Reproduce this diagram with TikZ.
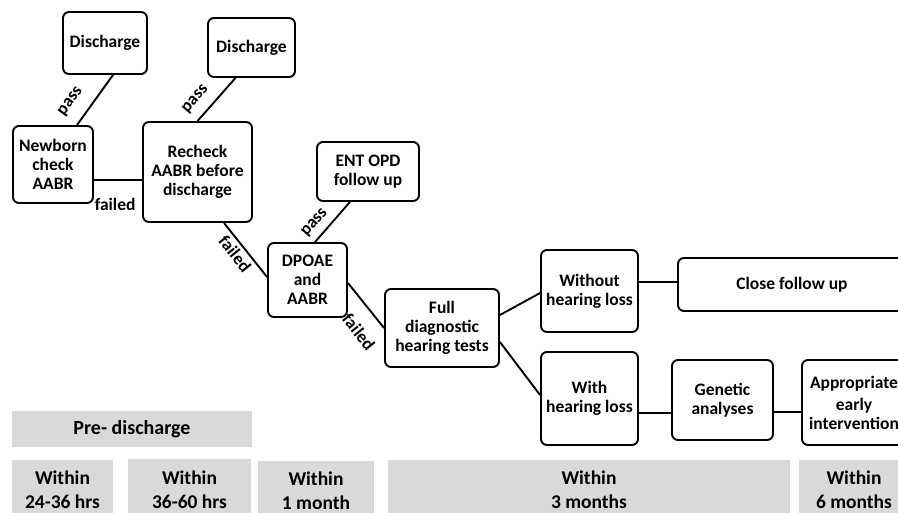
\documentclass[tikz,border=0pt]{standalone}
\usepackage{fontspec}
\setmainfont{Carlito}
\usepackage{tikz}
\usetikzlibrary{positioning}
\definecolor{bargray}{RGB}{217,217,217}

\begin{document}
\begin{tikzpicture}[x=1pt, y=-1pt, auto, line width=1.9pt]
            \tikzstyle{box}=[draw, rounded corners=6pt, align=center, inner sep=0pt, font=\fontsize{17.5}{19}\selectfont\bfseries]
            \tikzstyle{bar}=[fill=bargray, align=center, inner sep=0pt, font=\fontsize{19.5}{24}\selectfont\bfseries]
            \tikzstyle{lbl}=[sloped, font=\fontsize{17.5}{19}\selectfont\bfseries]

            \clip (0,0) rectangle (898,512);

            % screening steps
            \node[box, minimum width=80pt, minimum height=77pt]  (nb)   at (53,164.5)  {Newborn\\check\\AABR};
            \node[box, minimum width=84pt, minimum height=62pt]  (dis1) at (105,43)    {Discharge};
            \node[box, minimum width=109pt, minimum height=100pt] (rc)  at (197.5,172) {Recheck\\AABR before\\discharge};
            \node[box, minimum width=87pt, minimum height=59pt]  (dis2) at (251.5,47.5) {Discharge};
            \node[box, minimum width=79pt, minimum height=74pt]  (dp)   at (307.5,280) {DPOAE\\and\\AABR};
            \node[box, minimum width=102pt, minimum height=59pt] (ent)  at (368,171.5) {ENT OPD\\follow up};
            \node[box, minimum width=114pt, minimum height=78pt] (full) at (442,328)   {Full\\diagnostic\\hearing tests};

            % diagnosis
            \node[box, minimum width=97pt, minimum height=82pt]  (wo)    at (589.5,291)   {Without\\hearing loss};
            \node[box, minimum width=228pt, minimum height=53pt] (close) at (792,284.5)   {Close follow up};
            \node[box, minimum width=97pt, minimum height=93pt]  (wi)    at (589.5,398.5) {With\\hearing loss};
            \node[box, minimum width=101pt, minimum height=80pt] (gen)   at (722.5,400)   {Genetic\\analyses};
            \node[box, minimum width=104pt, minimum height=85pt] (app)   at (854,402.5)   {Appropriate\\[3pt]early\\intervention};

            \path ([xshift=24pt]nb.north) edge node[lbl, pos=0.25, inner sep=12pt] {pass} ([xshift=8pt]dis1.south)
                ([yshift=-15.5pt]nb.east) edge node[lbl, pos=0.44, below=14pt] {failed} ([yshift=-8pt]rc.west)
                (rc.north) edge node[lbl, pos=0.26, inner sep=9pt] {pass} ([xshift=-16pt]dis2.south)
                ([xshift=26.5pt]rc.south) edge node[lbl, pos=0.45, swap] {failed} ([yshift=3pt]dp.west)
                ([xshift=7.5pt]dp.north) edge node[lbl, pos=0.27, inner sep=6pt] {pass} ([xshift=-18pt]ent.south)
                ([yshift=-3pt]dp.east) edge node[lbl, pos=0.78, swap, inner sep=15pt] {failed} (full.west)
                ([yshift=13pt]full.east) edge ([yshift=-2pt]wo.west)
                ([yshift=-14pt]full.east) edge ([yshift=3.5pt]wi.west)
                ([yshift=9pt]wo.east) edge ([yshift=2.5pt]close.west)
                ([yshift=-14.5pt]wi.east) edge ([yshift=-13pt]gen.west)
                ([yshift=-12pt]gen.east) edge ([yshift=-9.5pt]app.west)
            ;

            % time line
            \node[bar, minimum width=240pt, minimum height=36pt, font=\fontsize{20}{24}\selectfont\bfseries] (pre) at (132,429) {Pre- discharge};
            \node[bar, minimum width=101pt, minimum height=60pt] (t1) at (62.5,490)  {Within\\24-36 hrs};
            \node[bar, minimum width=123pt, minimum height=61pt] (t2) at (189.5,489.5) {Within\\36-60 hrs};
            \node[bar, minimum width=116pt, minimum height=60pt] (t3) at (316,490.5) {Within\\1 month};
            \node[bar, minimum width=402pt, minimum height=60pt] (t4) at (589,490)   {Within\\3 months};
            \node[bar, minimum width=110pt, minimum height=60pt] (t5) at (854,490)   {Within\\6 months};
        \end{tikzpicture}
\end{document}
